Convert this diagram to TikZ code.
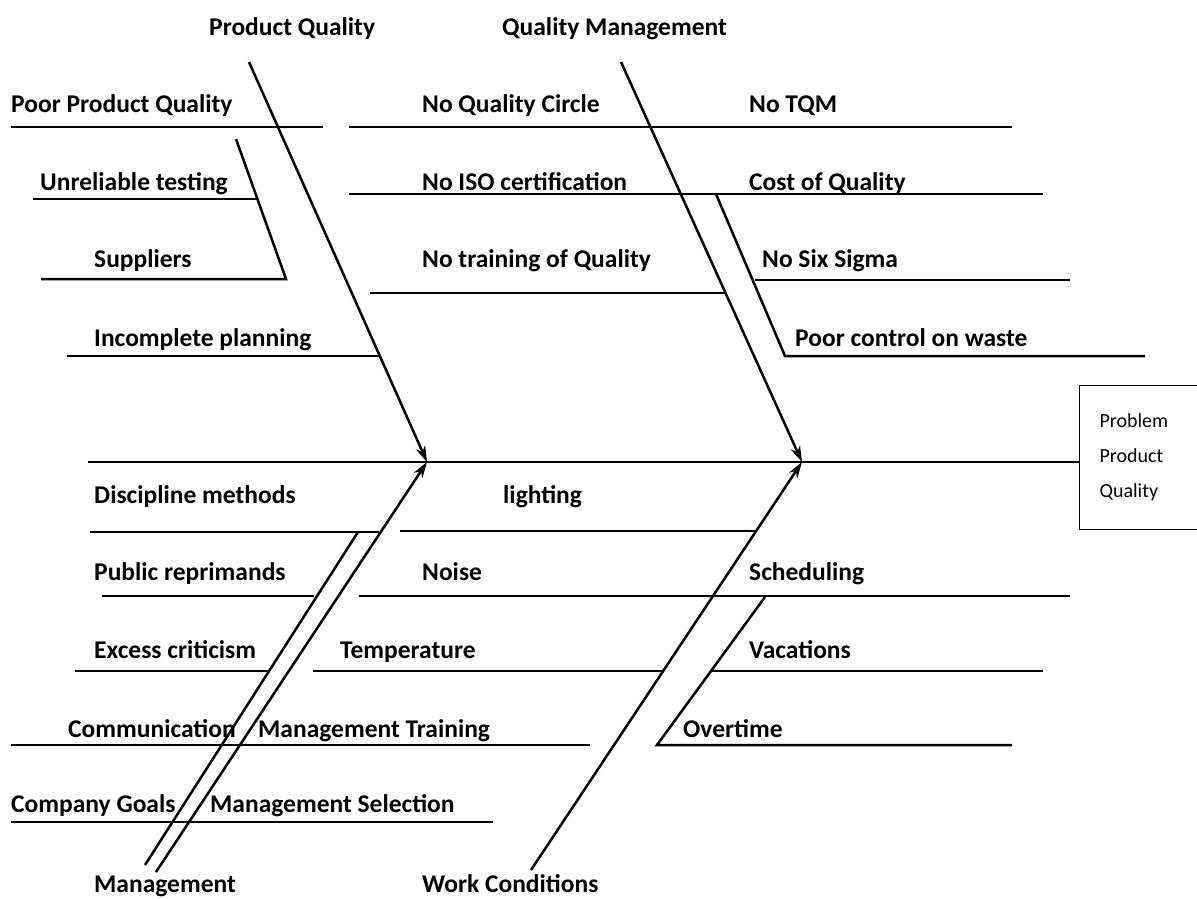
\documentclass[tikz,border=0pt]{standalone}
\usepackage{fontspec}
\setmainfont{Carlito}
\usepackage{tikz}
\usetikzlibrary{calc,positioning,arrows.meta}

\begin{document}
\begin{tikzpicture}[x=1pt,y=-1pt,
    bone/.style={line width=2.5pt},
    arr/.style={line width=2.5pt,-{Stealth[length=16pt,width=10pt,inset=5pt]}},
    lbl/.style={anchor=base west,inner sep=0pt,font=\fontsize{25.5}{28}\selectfont\bfseries},
    probbox/.style={draw,line width=1.2pt,anchor=north west,minimum width=140pt,minimum height=144pt,
        text width=100pt,inner xsep=19pt,align=left,font=\fontsize{20}{35}\selectfont}]
    \useasboundingbox (0,0) rectangle (1197,899);

    % the problem box and the spine
    \node[probbox] (prob) at (1079,385) {Problem\\Product\\Quality};
    \coordinate (tail) at (88,462);
    \coordinate (pq) at (427,462);
    \coordinate (qm) at (802,462);
    \draw[bone] (tail) -- (prob.west |- tail);

    % the main bones (the heads of the arrows sit on the spine)
    \node[lbl] (pqlbl) at (209,36) {Product Quality};
    \node[lbl] (qmlbl) at (502,36) {Quality Management};
    \node[lbl] (mglbl) at (94,892) {Management};
    \node[lbl] (wclbl) at (422,892) {Work Conditions};
    \coordinate (pqtop) at (249,62);
    \coordinate (qmtop) at (621,62);
    \coordinate (mgbot) at (156,872);
    \coordinate (wcbot) at (531,870);
    \draw[arr] (pqtop) -- (pq);
    \draw[arr] (qmtop) -- (qm);
    \draw[arr] (mgbot) -- (pq);
    \draw[arr] (wcbot) -- (qm);

    % the texts above the spine
    \node[lbl] (t1) at (11,112) {Poor Product Quality};
    \node[lbl] (t2) at (422,112) {No Quality Circle};
    \node[lbl] (t3) at (749,112) {No TQM};
    \node[lbl] (t4) at (40,190) {Unreliable testing};
    \node[lbl] (t5) at (422,190) {No ISO certification};
    \node[lbl] (t6) at (749,190) {Cost of Quality};
    \node[lbl] (t7) at (94,267) {Suppliers};
    \node[lbl] (t8) at (422,267) {No training of Quality};
    \node[lbl] (t9) at (762,267) {No Six Sigma};
    \node[lbl] (t10) at (94,346) {Incomplete planning};
    \node[lbl] (t11) at (795,346) {Poor control on waste};

    % the texts below the spine
    \node[lbl] (b1) at (94,503) {Discipline methods};
    \node[lbl] (b2) at (503,503) {lighting};
    \node[lbl] (b3) at (94,580) {Public reprimands};
    \node[lbl] (b4) at (422,580) {Noise};
    \node[lbl] (b5) at (749,580) {Scheduling};
    \node[lbl] (b6) at (94,658) {Excess criticism};
    \node[lbl] (b7) at (340,658) {Temperature};
    \node[lbl] (b8) at (749,658) {Vacations};
    \node[lbl] (b9) at (68,737) {Communication};
    \node[lbl] (b10) at (258,737) {Management Training};
    \node[lbl] (b11) at (683,737) {Overtime};
    \node[lbl] (b12) at (11,812) {Company Goals};
    \node[lbl] (b13) at (210,812) {Management Selection};

    % end points of the small bones above the spine
    \coordinate (ppq1) at (11,127);   \coordinate (ppq2) at (323,127);
    \coordinate (nqc1) at (349,127);  \coordinate (nqc2) at (1012,127);
    \coordinate (ut1) at (33,199);    \coordinate (ut2) at (258,199);
    \coordinate (iso1) at (349,194);  \coordinate (iso2) at (1043,194);
    \coordinate (sup0) at (236,139);  \coordinate (sup1) at (286,279);
    \coordinate (sup2) at (41,279);
    \coordinate (ntq1) at (370,293);  \coordinate (ntq2) at (726,293);
    \coordinate (nss1) at (755,280);  \coordinate (nss2) at (1070,280);
    \coordinate (ip1) at (67,356);    \coordinate (ip2) at (380,356);
    \coordinate (coq0) at (716,194);  \coordinate (coq1) at (785,356);
    \coordinate (pcw2) at (1145,356);

    % end points of the small bones below the spine
    \coordinate (dm1) at (90,532);    \coordinate (dm2) at (379,532);
    \coordinate (li1) at (400,531);   \coordinate (li2) at (755,531);
    \coordinate (pr1) at (102,596);   \coordinate (pr2) at (314,596);
    \coordinate (no1) at (359,596);   \coordinate (no2) at (1070,596);
    \coordinate (ec1) at (75,671);    \coordinate (ec2) at (269,671);
    \coordinate (te1) at (313,671);   \coordinate (te2) at (664,671);
    \coordinate (va1) at (711,671);   \coordinate (va2) at (1043,671);
    \coordinate (co1) at (11,745);    \coordinate (co2) at (590,745);
    \coordinate (ov0) at (765,597);   \coordinate (ov1) at (657,745);
    \coordinate (ov2) at (1012,745);
    \coordinate (cg1) at (11,822);    \coordinate (cg2) at (493,822);
    \coordinate (mg0) at (358,532);   \coordinate (mg1) at (145,865);

    % draw the small bones
    \draw[bone] (ppq1) -- (ppq2);
    \draw[bone] (nqc1) -- (nqc2);
    \draw[bone] (ut1) -- (ut2);
    \draw[bone] (iso1) -- (iso2);
    \draw[bone] (sup0) -- (sup1) -- (sup2);
    \draw[bone] (ntq1) -- (ntq2);
    \draw[bone] (nss1) -- (nss2);
    \draw[bone] (ip1) -- (ip2);
    \draw[bone] (coq0) -- (coq1) -- (pcw2);
    \draw[bone] (dm1) -- (dm2);
    \draw[bone] (li1) -- (li2);
    \draw[bone] (pr1) -- (pr2);
    \draw[bone] (no1) -- (no2);
    \draw[bone] (ec1) -- (ec2);
    \draw[bone] (te1) -- (te2);
    \draw[bone] (va1) -- (va2);
    \draw[bone] (co1) -- (co2);
    \draw[bone] (ov0) -- (ov1) -- (ov2);
    \draw[bone] (cg1) -- (cg2);
    \draw[bone] (mg0) -- (mg1);

\end{tikzpicture}
\end{document}
